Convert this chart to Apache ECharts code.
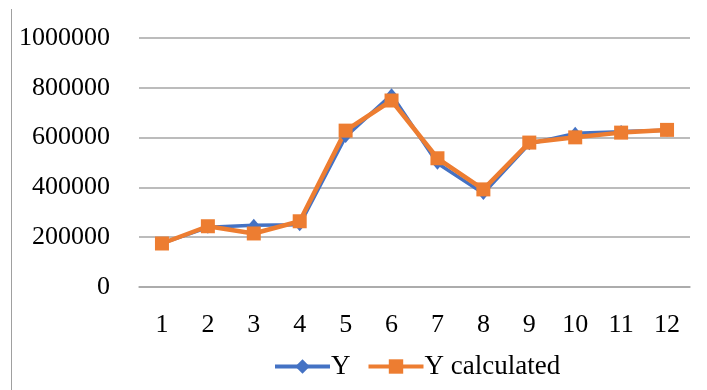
<!DOCTYPE html>
<html><head><meta charset="utf-8">
<script src="https://cdn.jsdelivr.net/npm/echarts@6/dist/echarts.min.js"></script>
<style>html,body{margin:0;padding:0;background:#fff}#c{width:707px;height:390px}</style>
</head><body><div id="c"></div>
<script>
var categories = ['1','2','3','4','5','6','7','8','9','10','11','12'];
var yValues = [175000, 240000, 248000, 250000, 604000, 772000, 497000, 376000, 575000, 617000, 624000, 630000];
var yCalculated = [174700, 244000, 215000, 264000, 628000, 749000, 517000, 392000, 580000, 601000, 620000, 631000];
var seriesNames = ['Y', 'Y calculated'];
var FONT = 'Liberation Serif';
var chart = echarts.init(document.getElementById('c'), null, {renderer: 'canvas'});
chart.setOption({
  animation: false,
  backgroundColor: '#fff',
  textStyle: {fontFamily: FONT},
  grid: {left: 139, right: 17, top: 38, bottom: 103, containLabel: false},
  graphic: [{type: 'line', shape: {x1: 11.5, y1: 9, x2: 11.5, y2: 390}, style: {stroke: '#a0a0a0', lineWidth: 1}}],
  legend: {
    top: 348, left: 268, itemWidth: 55, itemHeight: 18, itemGap: 16,
    lineStyle: {width: 4},
    textStyle: {fontFamily: FONT, fontSize: 27, color: '#000', padding: [0,0,0,-4]},
    data: seriesNames
  },
  xAxis: {
    type: 'category', data: categories, boundaryGap: true,
    axisLine: {show: true, lineStyle: {color: '#a6a6a6', width: 1.5}},
    axisTick: {show: false},
    axisLabel: {fontFamily: FONT, fontSize: 26, color: '#000', margin: 25}
  },
  yAxis: {
    type: 'value', min: 0, max: 1000000, interval: 200000,
    axisLine: {show: false}, axisTick: {show: false},
    splitLine: {lineStyle: {color: '#a6a6a6', width: 1.5}},
    axisLabel: {fontFamily: FONT, fontSize: 26, color: '#000', margin: 29,
      formatter: function (v) { return String(v); }}
  },
  series: [
    {name: seriesNames[0], type: 'line', data: yValues, symbol: 'diamond', symbolSize: [11, 13],
     color: '#4472C4', lineStyle: {width: 3.5, color: '#4472C4'}, itemStyle: {color: '#4472C4'}},
    {name: seriesNames[1], type: 'line', data: yCalculated, symbol: 'rect', symbolSize: 14,
     color: '#ED7D31', lineStyle: {width: 4.5, color: '#ED7D31'}, itemStyle: {color: '#ED7D31'}}
  ]
});
</script></body></html>
